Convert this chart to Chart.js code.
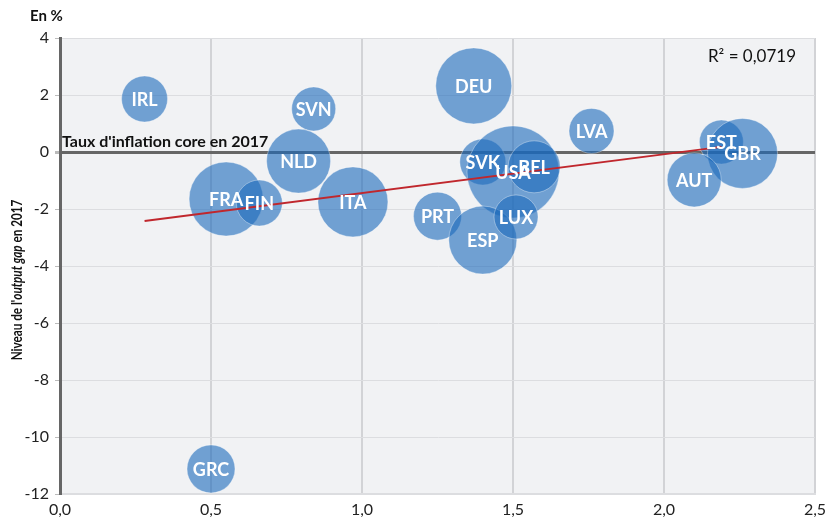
<!DOCTYPE html>
<html lang="fr">
<head>
<meta charset="utf-8">
<script src="https://cdn.jsdelivr.net/npm/chart.js@4"></script>
<style>
  html, body { margin: 0; padding: 0; background: #fff; }
  #wrap { width: 836px; height: 526px; position: relative; }
</style>
</head>
<body>
<div id="wrap"><canvas id="chart" width="836" height="526"></canvas></div>
<script>
"use strict";

// Pays, inflation core 2017 (x), output gap 2017 (y), taille de bulle.
const countries = ["IRL", "SVN", "NLD", "FRA", "FIN", "ITA", "DEU", "LVA", "SVK",
  "USA", "BEL", "PRT", "ESP", "LUX", "EST", "GBR", "AUT", "GRC"];
const inflation = [0.28, 0.84, 0.79, 0.55, 0.66, 0.97, 1.37, 1.76, 1.40,
  1.50, 1.57, 1.25, 1.40, 1.51, 2.19, 2.26, 2.10, 0.50];
const outputGap = [1.86, 1.51, -0.32, -1.65, -1.79, -1.75, 2.32, 0.74, -0.35,
  -0.70, -0.52, -2.25, -3.09, -2.28, 0.35, -0.05, -0.98, -11.12];
const bubbleSize = [23, 22, 32, 37, 23, 35, 38, 22.5, 23,
  46, 26, 24, 34, 22, 22, 35, 27, 24];

// Droite de tendance (R² = 0,0719).
const trendX = [0.28, 2.19];
const trendY = [-2.42, 0.18];

const FONT = "Lato, 'Open Sans', sans-serif";
const comma = (v, d) => v.toFixed(d).replace(".", ",");

const bgPlugin = {
  id: "plotBg",
  beforeDraw(chart) {
    const { ctx, chartArea: a } = chart;
    ctx.save();
    ctx.fillStyle = "#f1f2f4";
    ctx.fillRect(a.left, a.top, a.right - a.left, a.bottom - a.top);
    ctx.restore();
  },
};

// Textes : libellés des bulles, titres, R².
const textPlugin = {
  id: "texts",
  afterDatasetsDraw(chart) {
    const { ctx, chartArea: a } = chart;
    const meta = chart.getDatasetMeta(1);
    ctx.save();
    ctx.fillStyle = "#fff";
    ctx.font = "bold 18px " + FONT;
    ctx.textAlign = "center";
    ctx.textBaseline = "middle";
    meta.data.forEach((el, i) => ctx.fillText(countries[i], el.x, el.y + 1));

    ctx.fillStyle = "#111";
    ctx.font = "bold 16px " + FONT;
    ctx.textAlign = "left";
    ctx.textBaseline = "alphabetic";
    ctx.fillText("Taux d'inflation core en 2017", a.left + 2, chart.scales.y.getPixelForValue(0) - 5);
    ctx.font = "bold 15px " + FONT;
    ctx.fillText("En %", 30, 21);

    ctx.font = "17px " + FONT;
    ctx.textAlign = "right";
    ctx.fillText("R² = 0,0719", a.right - 19, 62);

    // Titre vertical avec « output gap » en italique (resserré comme l'original).
    ctx.textAlign = "left";
    const parts = [["Niveau de l'", "bold "], ["output gap", "italic bold "], [" en 2017", "bold "]];
    let total = 0;
    const widths = parts.map((p) => {
      ctx.font = p[1] + "15px " + FONT;
      const w = ctx.measureText(p[0]).width;
      total += w;
      return w;
    });
    ctx.translate(22, 280);
    ctx.rotate(-Math.PI / 2);
    ctx.scale(0.78, 1);
    let x = -total / 2;
    parts.forEach((p, i) => {
      ctx.font = p[1] + "15px " + FONT;
      ctx.fillText(p[0], x, 0);
      x += widths[i];
    });
    ctx.restore();
  },
};

new Chart(document.getElementById("chart"), {
  type: "bubble",
  data: {
    datasets: [
      {
        type: "line",
        label: "Tendance",
        data: trendX.map((x, i) => ({ x, y: trendY[i] })),
        borderColor: "#c0272d",
        borderWidth: 2,
        pointRadius: 0,
        order: 0,
      },
      {
        label: "Pays",
        data: countries.map((c, i) => ({ x: inflation[i], y: outputGap[i], r: bubbleSize[i] })),
        backgroundColor: "rgba(26,105,187,0.6)",
        borderColor: "rgba(255,255,255,0.35)",
        borderWidth: 1,
        hoverRadius: 0,
        order: 1,
      },
    ],
  },
  options: {
    responsive: false,
    animation: false,
    layout: { autoPadding: false, padding: { top: 38, right: 21, left: 0, bottom: 0 } },
    plugins: { legend: { display: false }, tooltip: { enabled: false } },
    scales: {
      x: {
        type: "linear",
        min: 0, max: 2.5,
        afterFit: (s) => { s.height = 32; },
        ticks: {
          stepSize: 0.5, padding: 6, color: "#222",
          font: { family: FONT, size: 16 },
          callback: (v) => comma(v, 1),
        },
        grid: {
          color: "#d2d3d6", lineWidth: 2, drawTicks: false,
        },
        border: { color: "#dcdde0", width: 2 },
      },
      y: {
        type: "linear",
        min: -12, max: 4,
        afterFit: (s) => { s.width = 60; },
        ticks: {
          stepSize: 2, padding: 6, color: "#222",
          font: { family: FONT, size: 16 },
          callback: (v) => String(v),
        },
        grid: {
          color: (c) => (c.tick && c.tick.value === 0 ? "#666" : "#dcdde0"),
          lineWidth: (c) => (c.tick && c.tick.value === 0 ? 3 : 1),
          tickLength: 5,
          tickColor: "#bbb",
        },
        border: { color: "#666", width: 3 },
      },
    },
  },
  plugins: [bgPlugin, textPlugin],
});
</script>
</body>
</html>
